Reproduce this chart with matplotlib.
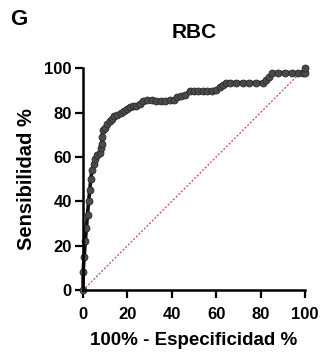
import matplotlib.pyplot as plt

plt.rcParams['font.family'] = ['Liberation Sans', 'DejaVu Sans']
plt.rcParams['font.weight'] = 'bold'

# ROC points (100% - specificity, sensitivity)
fpr = [0, 0, 0.5, 1, 1.5, 2, 2.5, 3, 3.5, 4, 5, 5.5, 6.5, 7.5, 8, 8.5, 8.5, 9, 10,
       11, 12, 13, 14, 15.5, 17, 18.5, 20, 21, 22.5, 24, 25.5, 27, 29, 31, 33, 35,
       37, 39, 41, 42.5, 44, 46, 48, 50, 52, 54, 56, 58, 60, 61.5, 63, 64.5, 66,
       69, 72, 75, 78, 81, 82.5, 84, 85, 88, 91, 94, 97, 99, 100, 100]
tpr = [0, 8, 15, 22, 28, 34, 40, 45, 50, 54, 57, 59, 61, 62, 64, 66, 69, 72, 73,
       75, 76, 77, 78.5, 79, 80, 80.5, 81.5, 82.5, 83, 83, 84, 85, 85.5, 85.5, 85,
       85, 85, 85.5, 85.5, 87, 87.5, 88, 89.5, 89.5, 89.5, 89.5, 89.5, 89.5, 90,
       91.5, 92.5, 93.5, 93.5, 93.5, 93.5, 93.5, 93.5, 93.5, 94.5, 96, 98, 98, 98,
       98, 98, 98, 98, 100]

fig = plt.figure(figsize=(3.22, 3.53), dpi=100)
ax = fig.add_axes([0.258, 0.178, 0.689, 0.629])

ax.plot([0, 100], [0, 100], color='#c0464e', linestyle=(0, (1.5, 1.5)), linewidth=0.9)
ax.plot(fpr, tpr, color='#111111', linewidth=2.6, marker='o', markersize=5,
        markerfacecolor='#4a4a4a', markeredgecolor='#2a2a2a', markeredgewidth=0.6,
        clip_on=False)

ax.set_xlim(0, 100)
ax.set_ylim(0, 100)
ax.set_xticks([0, 20, 40, 60, 80, 100])
ax.set_yticks([0, 20, 40, 60, 80, 100])
for s in ['top', 'right']:
    ax.spines[s].set_visible(False)
for s in ['left', 'bottom']:
    ax.spines[s].set_linewidth(1.8)
ax.tick_params(width=1.6, length=6, labelsize=12)
ax.tick_params(axis='x', pad=6)
ax.tick_params(axis='y', pad=2)
for lab in ax.get_xticklabels() + ax.get_yticklabels():
    lab.set_fontweight('bold')

ax.set_xlabel('100% - Especificidad %', fontsize=13.5, fontweight='bold', labelpad=7)
ax.set_ylabel('Sensibilidad %', fontsize=14.5, fontweight='bold', labelpad=6)
ax.set_title('RBC', fontsize=15, fontweight='bold', pad=22)
fig.text(0.03, 0.93, 'G', fontsize=16, fontweight='bold')

fig.savefig('out.png', dpi=100)
